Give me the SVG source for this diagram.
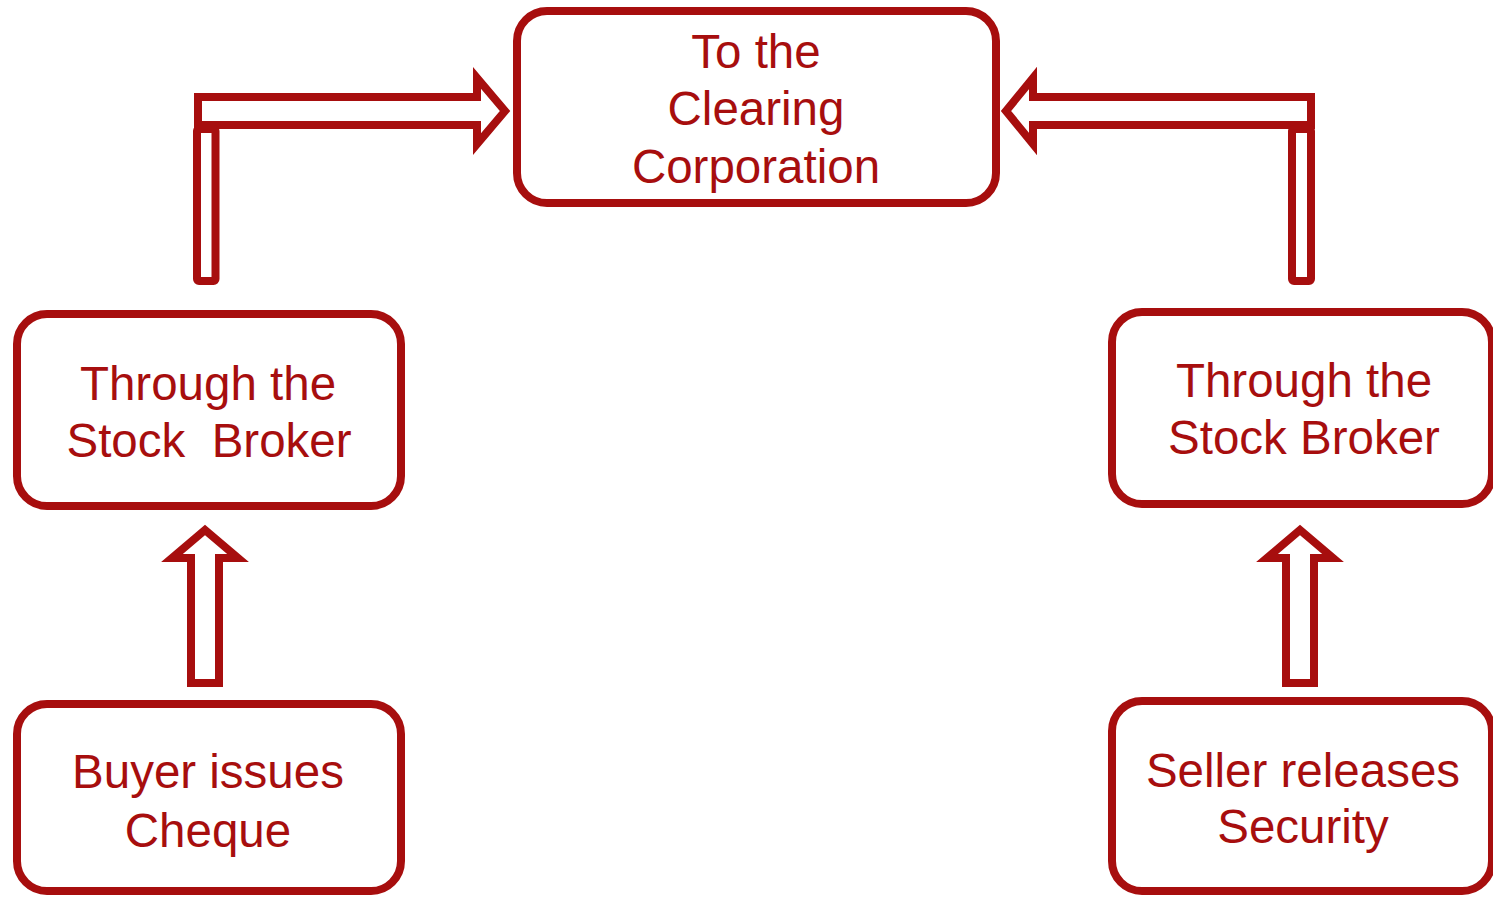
<svg xmlns="http://www.w3.org/2000/svg" width="1493" height="897" viewBox="0 0 1493 897">
<style>
.box{fill:#fff;stroke:#A70E0E;stroke-width:8}
.arr{fill:#fff;stroke:#A70E0E;stroke-width:8;stroke-linejoin:miter;stroke-miterlimit:10}
.bar{fill:#fff;stroke:#A70E0E;stroke-width:8;stroke-linejoin:round}
text{font-family:"Liberation Sans",Arial,sans-serif;font-size:47.5px;fill:#A70E0E;text-anchor:middle;white-space:pre}
</style>
<rect width="1493" height="897" fill="#fff"/>
<g id="connectors">
<polygon class="arr" points="198,97 477,97 477,78 505,111 477,144 477,125 198,125"/>
<rect class="bar" x="197" y="129" width="18.5" height="152" rx="2"/>
<polygon class="arr" points="1311,97 1033,97 1033,78 1006,111 1033,144 1033,125 1311,125"/>
<rect class="bar" x="1292" y="129" width="19" height="152" rx="2"/>
<polygon class="arr" points="191,683 219,683 219,558 238,558 205,530 172,558 191,558"/>
<polygon class="arr" points="1286,683 1314,683 1314,558 1333,558 1300,530 1267,558 1286,558"/>
</g>
<g id="clearing">
<rect class="box" x="517" y="11" width="479" height="192" rx="30"/>
<text x="756" y="68">To the</text>
<text x="756" y="125">Clearing</text>
<text x="756" y="183">Corporation</text>
</g>
<g id="broker-left">
<rect class="box" x="17" y="314" width="384" height="192" rx="30"/>
<text x="208" y="400">Through the</text>
<text x="209" y="457">Stock  Broker</text>
</g>
<g id="broker-right">
<rect class="box" x="1112" y="312" width="380" height="192" rx="30"/>
<text x="1304" y="397">Through the</text>
<text x="1304" y="454">Stock Broker</text>
</g>
<g id="buyer">
<rect class="box" x="17" y="704" width="384" height="187" rx="30"/>
<text x="208" y="788">Buyer issues</text>
<text x="208" y="847">Cheque</text>
</g>
<g id="seller">
<rect class="box" x="1112" y="701" width="380" height="190" rx="30"/>
<text x="1303" y="787">Seller releases</text>
<text x="1303" y="843">Security</text>
</g>
</svg>
